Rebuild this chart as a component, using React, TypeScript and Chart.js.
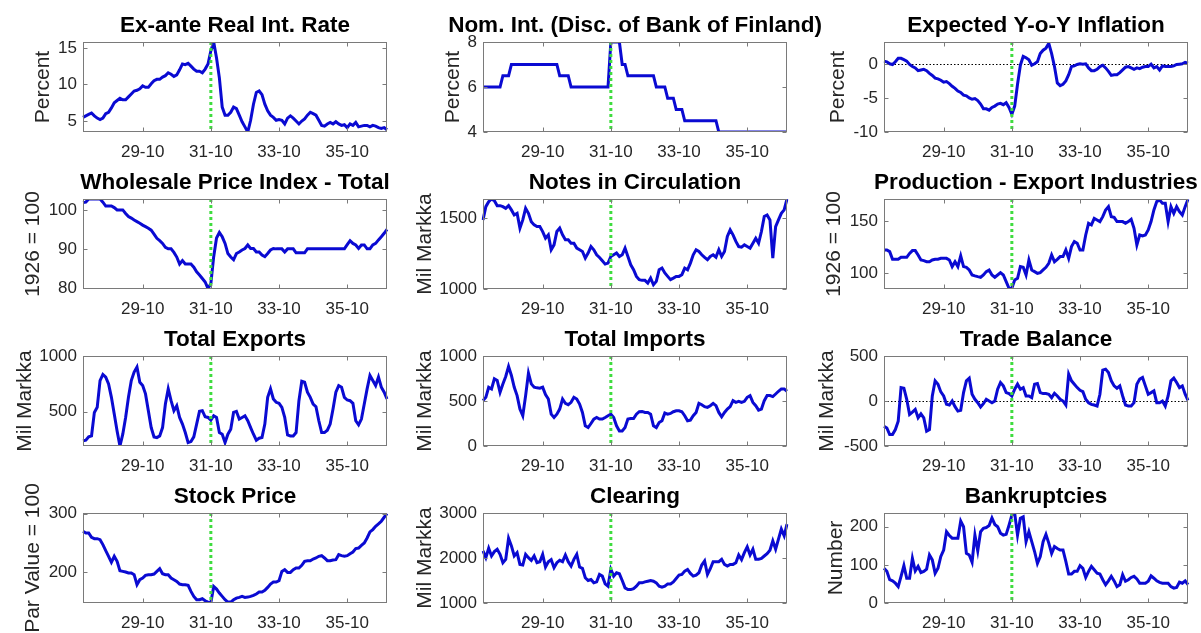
import React, { useEffect, useRef } from "react";
import { Chart, registerables } from "chart.js";

Chart.register(...registerables);

// ---------- categories ----------
const MONTHS: string[] = [];
for (let y = 28; y <= 36; y++) {
  for (let m = 1; m <= 12; m++) MONTHS.push(`${y}-${String(m).padStart(2, "0")}`);
}
const X_TICK_LABELS = ["29-10", "31-10", "33-10", "35-10"];
const BREAK_MONTH = "31-10";

// ---------- series (monthly, 1928-01 .. 1936-12) ----------
const REAL_RATE = [
  5.5, 5.7, 5.9, 6.1, 5.7, 5.4, 5.2, 5.4, 6.0, 6.2,
  6.8, 7.5, 7.8, 8.1, 7.9, 7.9, 8.3, 8.7, 9.1, 9.2,
  9.4, 9.8, 9.6, 9.6, 10.1, 10.5, 10.7, 10.7, 11.0, 11.2,
  11.6, 11.4, 11.1, 11.3, 12.0, 12.8, 12.7, 12.9, 12.5, 12.1,
  11.8, 11.8, 11.6, 12.1, 12.8, 14.6, 15.8, 13.6, 10.9, 6.9,
  5.8, 5.8, 6.2, 6.9, 6.7, 5.8, 4.9, 4.2, 3.5, 5.1,
  7.3, 8.9, 9.1, 8.6, 7.3, 6.4, 5.8, 5.5, 5.1, 5.2,
  5.1, 4.6, 5.4, 5.7, 5.4, 5.0, 4.6, 5.0, 5.3, 5.8,
  6.2, 6.0, 5.8, 5.1, 4.4, 4.3, 4.6, 4.8, 4.6, 4.9,
  4.6, 4.4, 4.5, 4.1, 4.6, 4.4, 4.8, 4.2, 4.3, 4.4,
  4.4, 4.2, 4.4, 4.3, 4.1, 4.0, 4.1, 3.8,
];
const NOM_RATE = [
  6, 6, 6, 6, 6, 6, 6, 6.5, 6.5, 6.5,
  7, 7, 7, 7, 7, 7, 7, 7, 7, 7,
  7, 7, 7, 7, 7, 7, 7, 6.5, 6.5, 6.5,
  6.5, 6, 6, 6, 6, 6, 6, 6, 6, 6,
  6, 6, 6, 6, 6, 8, 8, 8, 8, 7,
  7, 6.5, 6.5, 6.5, 6.5, 6.5, 6.5, 6.5, 6.5, 6.5,
  6.5, 6, 6, 6, 6, 5.5, 5.5, 5.5, 5, 5,
  5, 4.5, 4.5, 4.5, 4.5, 4.5, 4.5, 4.5, 4.5, 4.5,
  4.5, 4.5, 4.5, 4, 4, 4, 4, 4, 4, 4,
  4, 4, 4, 4, 4, 4, 4, 4, 4, 4,
  4, 4, 4, 4, 4, 4, 4, 4,
];
const EXP_INFL = [
  0.4, 0.3, 0, -0.1, 0.3, 0.8, 0.8, 0.6, 0.4, -0.1,
  -0.4, -0.6, -1.0, -0.9, -0.8, -1.0, -1.4, -1.7, -2.1, -2.2,
  -2.4, -2.7, -2.6, -2.9, -3.3, -3.6, -4.0, -4.2, -4.6, -4.7,
  -5.0, -5.2, -5.1, -5.4, -5.9, -6.6, -6.6, -6.8, -6.4, -6.2,
  -5.9, -5.8, -6.0, -5.7, -6.4, -7.4, -6.2, -3.0, -0.2, 1.1,
  0.9, 0.6, -0.2, 0, 0.3, 1.5, 2.0, 2.3, 3.0, 1.5,
  -0.4, -2.8, -3.2, -3.0, -2.5, -1.6, -0.4, -0.3, -0.1, 0,
  -0.05, 0, -0.6, -1.0, -1.0, -0.8, -0.4, -0.2, -0.6, -1.1,
  -1.7, -1.6, -1.6, -1.3, -0.9, -0.5, -0.4, -0.6, -0.8, -0.6,
  -0.7, -0.5, -0.4, -0.4, -0.05, -0.6, -0.4, -0.9, -0.3, -0.4,
  -0.4, -0.4, -0.3, -0.1, -0.05, 0, 0.2, 0.1,
];
const WPI = [
  101.9, 102, 102.8, 102.8, 102.8, 102.8, 102.8, 102, 101, 101,
  101, 100.6, 100, 100, 100, 99.1, 98.3, 97.9, 97.4, 97,
  96.6, 96.1, 95.7, 95.3, 94.8, 93.8, 92.7, 92.1, 91.4, 90.4,
  90, 90, 89.1, 87.9, 86.1, 87, 86.1, 86.1, 86.1, 85.3,
  84.1, 83.3, 82.4, 81.5, 79.8, 81.1, 88, 92.8, 94.2, 93.1,
  91.4, 88.8, 87.9, 87.2, 88.8, 89.2, 89.7, 90.1, 91, 90.1,
  90.1, 89.2, 89.2, 88.4, 88, 88.8, 89.7, 90.1, 90, 90,
  90, 89.2, 90, 90, 90, 89, 89, 89, 89, 90,
  90, 90, 90, 90, 90, 90, 90, 90, 90, 90,
  90, 90, 90, 91.1, 92.1, 91.4, 91, 90.1, 91, 91,
  90, 90, 91, 91.4, 92.3, 93.1, 94, 95,
];
const NOTES = [
  1488, 1582, 1617, 1636, 1624, 1589, 1589, 1582, 1570, 1589,
  1559, 1523, 1535, 1430, 1488, 1570, 1535, 1476, 1453, 1441,
  1441, 1406, 1359, 1383, 1277, 1312, 1406, 1430, 1383, 1348,
  1348, 1324, 1324, 1289, 1277, 1265, 1218, 1254, 1300, 1277,
  1242, 1223, 1200, 1176, 1183, 1230, 1242, 1254, 1230, 1242,
  1289, 1230, 1171, 1136, 1089, 1066, 1061, 1061, 1042, 1077,
  1030, 1054, 1136, 1148, 1113, 1089, 1066, 1077, 1089, 1089,
  1101, 1148, 1136, 1183, 1242, 1277, 1265, 1242, 1223, 1207,
  1230, 1242, 1225, 1277, 1230, 1265, 1371, 1418, 1383, 1336,
  1300, 1296, 1312, 1300, 1289, 1324, 1359, 1324, 1406, 1512,
  1523, 1488, 1218, 1441, 1488, 1535, 1559, 1636,
];
const PRODUCTION = [
  122.3, 122.3, 120.7, 113.4, 113.4, 113.4, 115.3, 115.3, 115.3, 119,
  121.7, 121.7, 117.5, 112.7, 112.1, 111.1, 111.1, 112.7, 113.4, 113.4,
  114.3, 114.3, 114.3, 112.7, 106.4, 111.1, 106.4, 116.6, 106.4, 105.7,
  103.2, 98.4, 97.5, 96.8, 96.2, 98.4, 101.6, 103.2, 98.4, 96.2,
  98.4, 100.6, 98.4, 92, 85.7, 85.7, 93.6, 95.2, 106.4, 105.7,
  98.4, 112.7, 103.2, 101.6, 100, 100.6, 103.2, 105.7, 109.6, 117.5,
  111.1, 113.4, 116, 116, 122.3, 114.3, 125.5, 130.3, 128.7, 122.3,
  122.3, 136.6, 147.8, 146.2, 152.5, 151, 149.4, 154.1, 160.5, 163.7,
  154.1, 153.5, 149.4, 149.4, 149.4, 147.8, 149.4, 151.6, 143, 127,
  136.6, 135.7, 136.6, 141.4, 149.4, 160.5, 168.5, 170, 166.9, 166.9,
  149.4, 163.7, 157.3, 163.7, 158.9, 155.7, 163.7, 170.7,
];
const EXPORTS = [
  236, 242, 272, 281, 492, 538, 779, 834, 810, 749,
  628, 477, 326, 190, 296, 447, 628, 779, 855, 900,
  764, 734, 659, 508, 356, 272, 266, 281, 356, 568,
  704, 598, 508, 553, 447, 387, 311, 221, 230, 272,
  387, 502, 508, 453, 447, 423, 462, 447, 311, 296,
  221, 296, 341, 492, 502, 432, 447, 462, 417, 356,
  296, 242, 260, 266, 387, 628, 704, 613, 583, 574,
  538, 447, 290, 281, 281, 311, 598, 773, 764, 674,
  628, 568, 544, 417, 311, 311, 332, 387, 523, 674,
  734, 719, 628, 604, 598, 574, 417, 381, 432, 568,
  704, 825, 779, 734, 810, 719, 674, 613,
];
const IMPORTS = [
  504, 541, 653, 634, 746, 728, 597, 690, 772, 884,
  784, 653, 560, 410, 336, 560, 810, 690, 653, 646,
  642, 653, 571, 522, 354, 317, 354, 410, 522, 474,
  459, 485, 541, 522, 466, 373, 224, 205, 250, 299,
  317, 299, 299, 317, 336, 354, 317, 224, 168, 168,
  205, 299, 306, 306, 354, 381, 384, 373, 373, 354,
  224, 205, 261, 280, 366, 354, 362, 381, 392, 392,
  381, 336, 280, 287, 336, 373, 474, 459, 437, 429,
  448, 474, 448, 373, 325, 373, 410, 437, 504, 485,
  496, 485, 496, 541, 560, 485, 448, 399, 410, 504,
  560, 560, 549, 578, 608, 634, 634, 608,
];
const TRADE_BALANCE = [
  -280, -299, -373, -373, -317, -224, 149, 142, 19, -149,
  -123, -93, -187, -142, -187, -336, -317, 56, 224, 187,
  101, 56, -37, -45, 0, -63, -112, -104, 93, 224,
  254, 75, 19, -19, -67, -30, 19, 0, -19, 0,
  131, 205, 168, 93, 82, 56, 131, 187, 131, 149,
  56, 56, 37, 187, 194, 93, 82, 82, 75, 37,
  86, 56, 19, 0, -45, 299, 224, 187, 149, 119,
  104, 19, -19, -37, -45, -56, 75, 343, 354, 317,
  224, 168, 142, 168, 56, -45, -56, -56, -19, 187,
  243, 261, 168, 75, 93, 112, -19, -19, 0, -56,
  56, 224, 254, 205, 149, 168, 75, 7,
];
const STOCK_PRICE = [
  269.7, 266.9, 266.9, 259.4, 257.1, 257.1, 255.4, 246.9, 236.6, 226.9,
  216.6, 226.9, 218.3, 202.3, 201.1, 200, 198.3, 198.3, 195.4, 178.3,
  186.9, 189.7, 194.3, 195.4, 195.4, 196.6, 201.1, 205.7, 197.1, 195.4,
  195.4, 189.7, 186.9, 184, 179.4, 178.3, 178.3, 177.1, 166.9, 158.3,
  152.6, 152.6, 154.3, 150.9, 148.5, 147.5, 175.4, 170.9, 164, 158.3,
  152.6, 148.6, 148.6, 152.6, 155.4, 156.6, 158.3, 156.6, 157.1, 158.3,
  160, 162.3, 165.7, 165.7, 168.6, 173.7, 179.4, 182.9, 182.9, 185.1,
  201.1, 204, 199.4, 199.4, 204, 206.9, 206.9, 211.4, 218.3, 219.4,
  219.4, 222.3, 224, 226.9, 228, 224, 219.4, 219.4, 220.6, 221.1,
  229.7, 228, 226.9, 228, 231.4, 234.3, 240, 241.1, 245.7, 249.7,
  258.3, 268.6, 272.6, 278.3, 282.3, 286.9, 293.7, 300,
];
const CLEARING = [
  2157, 2007, 2216, 2045, 2142, 2194, 2082, 1896, 1970, 2440,
  2269, 2045, 2119, 1858, 1843, 2082, 2007, 1948, 2045, 1896,
  1918, 2082, 1799, 1918, 1963, 1784, 1896, 1948, 1918, 2067,
  1918, 1821, 1970, 2082, 1799, 1769, 1560, 1500, 1522, 1448,
  1470, 1634, 1597, 1425, 1373, 1746, 1597, 1672, 1649, 1500,
  1336, 1299, 1299, 1321, 1373, 1448, 1448, 1470, 1485, 1500,
  1485, 1448, 1373, 1351, 1373, 1425, 1425, 1470, 1545, 1619,
  1634, 1709, 1746, 1657, 1597, 1619, 1672, 1843, 1933, 1634,
  1761, 1918, 1918, 1918, 1970, 1858, 1821, 1858, 1858, 1896,
  2067, 1963, 2119, 2246, 2067, 2194, 1970, 1970, 1993, 2045,
  2097, 2172, 2381, 2194, 2418, 2642, 2493, 2754,
];
const BANKRUPTCIES = [
  91, 83, 61, 58, 52, 43, 70, 98, 65, 65,
  117, 84, 96, 80, 83, 89, 126, 113, 78, 91,
  122, 139, 187, 177, 170, 170, 170, 215, 200, 130,
  126, 107, 178, 137, 187, 196, 198, 203, 223, 206,
  200, 183, 178, 180, 204, 230, 235, 178, 222, 226,
  161, 187, 161, 135, 104, 122, 161, 180, 157, 130,
  148, 143, 139, 139, 109, 76, 76, 83, 83, 98,
  91, 67, 83, 96, 87, 78, 76, 61, 48, 58,
  70, 58, 43, 48, 74, 57, 61, 67, 70, 63,
  52, 52, 52, 57, 71, 65, 58, 54, 52, 52,
  52, 43, 39, 41, 55, 52, 58, 48,
];

// ---------- panel configuration ----------
type PanelCfg = {
  title: string;
  ylabel: string;
  data: number[];
  min: number;
  max: number;
  yTicks: number[];
  zero?: boolean;
  col: number;
  row: number;
  ylabelX: number; // absolute page x of rotated y-label centre
};

const PANELS: PanelCfg[] = [
  { title: "Ex-ante Real Int. Rate", ylabel: "Percent", data: REAL_RATE, min: 3.5, max: 15.8, yTicks: [5, 10, 15], col: 0, row: 0, ylabelX: 43 },
  { title: "Nom. Int. (Disc. of Bank of Finland)", ylabel: "Percent", data: NOM_RATE, min: 4, max: 8, yTicks: [4, 6, 8], col: 1, row: 0, ylabelX: 453 },
  { title: "Expected Y-o-Y Inflation", ylabel: "Percent", data: EXP_INFL, min: -10, max: 3.2, yTicks: [-10, -5, 0], zero: true, col: 2, row: 0, ylabelX: 838 },
  { title: "Wholesale Price Index - Total", ylabel: "1926 = 100", data: WPI, min: 79.7, max: 102.8, yTicks: [80, 90, 100], col: 0, row: 1, ylabelX: 33 },
  { title: "Notes in Circulation", ylabel: "Mil Markka", data: NOTES, min: 1000, max: 1636, yTicks: [1000, 1500], col: 1, row: 1, ylabelX: 425 },
  { title: "Production - Export Industries", ylabel: "1926 = 100", data: PRODUCTION, min: 85, max: 171, yTicks: [100, 150], col: 2, row: 1, ylabelX: 834 },
  { title: "Total Exports", ylabel: "Mil Markka", data: EXPORTS, min: 190, max: 1000, yTicks: [500, 1000], col: 0, row: 2, ylabelX: 25 },
  { title: "Total Imports", ylabel: "Mil Markka", data: IMPORTS, min: 0, max: 1000, yTicks: [0, 500, 1000], col: 1, row: 2, ylabelX: 425 },
  { title: "Trade Balance", ylabel: "Mil Markka", data: TRADE_BALANCE, min: -500, max: 500, yTicks: [-500, 0, 500], zero: true, col: 2, row: 2, ylabelX: 827 },
  { title: "Stock Price", ylabel: "Par Value = 100", data: STOCK_PRICE, min: 147, max: 301, yTicks: [200, 300], col: 0, row: 3, ylabelX: 33 },
  { title: "Clearing", ylabel: "Mil Markka", data: CLEARING, min: 1000, max: 3000, yTicks: [1000, 2000, 3000], col: 1, row: 3, ylabelX: 425 },
  { title: "Bankruptcies", ylabel: "Number", data: BANKRUPTCIES, min: 0, max: 236, yTicks: [0, 100, 200], col: 2, row: 3, ylabelX: 836 },
];

// ---------- layout / style ----------
const PLOT_LEFT = [83, 483, 884];
const PLOT_TOP = [42, 199, 356, 513];
const PLOT_W = 304;
const PLOT_H = 90;
const MARGIN_L = 100;
const MARGIN_R = 80;
const MARGIN_T = 42;
const CANVAS_W = MARGIN_L + PLOT_W + MARGIN_R;
const CANVAS_H = 162;
const Y_AXIS_W = 50;
const X_AXIS_H = 25;

const FONT = '"Liberation Sans", Arial, Helvetica, sans-serif';
const LINE_COLOR = "#0a0ad2";
const BREAK_COLOR = "#3fdc3f";
const AXIS_COLOR = "#7a7a7a";
const TEXT_COLOR = "#262626";

Chart.defaults.font.family = FONT;

function PanelChart({ cfg }: { cfg: PanelCfg }) {
  const ref = useRef<HTMLCanvasElement | null>(null);
  const canvasLeft = PLOT_LEFT[cfg.col] - MARGIN_L;
  const canvasTop = PLOT_TOP[cfg.row] - MARGIN_T;

  useEffect(() => {
    const canvas = ref.current;
    if (!canvas) return;
    const breakIdx = MONTHS.indexOf(BREAK_MONTH);
    const xTickIdx = X_TICK_LABELS.map((l) => MONTHS.indexOf(l));

    const framePlugin = {
      id: "matlabFrame",
      beforeDatasetsDraw(chart: any) {
        const { ctx, chartArea: a, scales } = chart;
        if (cfg.zero) {
          const y = Math.round(scales.y.getPixelForValue(0)) + 0.5;
          ctx.save();
          ctx.strokeStyle = "#000";
          ctx.lineWidth = 1;
          ctx.setLineDash([1.5, 2]);
          ctx.beginPath();
          ctx.moveTo(a.left, y);
          ctx.lineTo(a.right, y);
          ctx.stroke();
          ctx.restore();
        }
      },
      afterDatasetsDraw(chart: any) {
        const { ctx, chartArea: a, scales } = chart;
        const xb = scales.x.getPixelForValue(breakIdx);
        ctx.save();
        ctx.strokeStyle = BREAK_COLOR;
        ctx.lineWidth = 3;
        ctx.setLineDash([3, 3]);
        ctx.beginPath();
        ctx.moveTo(xb, a.top);
        ctx.lineTo(xb, a.bottom);
        ctx.stroke();
        ctx.restore();
      },
      afterDraw(chart: any) {
        const { ctx, chartArea: a, scales } = chart;
        const L = Math.round(a.left) + 0.5;
        const R = Math.round(a.right) - 0.5;
        const T = Math.round(a.top) + 0.5;
        const B = Math.round(a.bottom) - 0.5;
        ctx.save();
        ctx.strokeStyle = AXIS_COLOR;
        ctx.lineWidth = 1;
        ctx.setLineDash([]);
        ctx.strokeRect(L, T, R - L, B - T);
        ctx.beginPath();
        const tl = 4;
        xTickIdx.forEach((i) => {
          const px = Math.round(scales.x.getPixelForValue(i)) + 0.5;
          ctx.moveTo(px, B);
          ctx.lineTo(px, B - tl);
          ctx.moveTo(px, T);
          ctx.lineTo(px, T + tl);
        });
        cfg.yTicks.forEach((v) => {
          const py = Math.round(scales.y.getPixelForValue(v)) + 0.5;
          ctx.moveTo(L, py);
          ctx.lineTo(L + tl, py);
          ctx.moveTo(R, py);
          ctx.lineTo(R - tl, py);
        });
        ctx.stroke();

        // title
        ctx.fillStyle = "#000";
        ctx.font = `bold 22.5px ${FONT}`;
        ctx.textAlign = "center";
        ctx.textBaseline = "middle";
        ctx.fillText(cfg.title, (a.left + a.right) / 2, a.top - 16);

        // y label
        ctx.fillStyle = TEXT_COLOR;
        ctx.font = `21px ${FONT}`;
        ctx.translate(cfg.ylabelX - canvasLeft, (a.top + a.bottom) / 2);
        ctx.rotate(-Math.PI / 2);
        ctx.textAlign = "center";
        ctx.textBaseline = "middle";
        ctx.fillText(cfg.ylabel, 0, 0);
        ctx.restore();
      },
    };

    const chart = new Chart(canvas, {
      type: "line",
      data: {
        labels: MONTHS,
        datasets: [
          {
            data: cfg.data,
            borderColor: LINE_COLOR,
            backgroundColor: LINE_COLOR,
            borderWidth: 3,
            pointRadius: 0,
            tension: 0,
            fill: false,
          },
        ],
      },
      options: {
        responsive: false,
        animation: false,
        events: [],
        layout: {
          padding: {
            left: MARGIN_L - Y_AXIS_W,
            right: MARGIN_R,
            top: MARGIN_T,
            bottom: CANVAS_H - MARGIN_T - PLOT_H - X_AXIS_H,
          },
        },
        plugins: {
          legend: { display: false },
          tooltip: { enabled: false },
          title: { display: false },
        },
        scales: {
          x: {
            type: "category",
            grid: { display: false, drawTicks: false },
            border: { display: false },
            ticks: {
              autoSkip: false,
              maxRotation: 0,
              minRotation: 0,
              padding: 10,
              color: TEXT_COLOR,
              font: { size: 17, family: FONT },
              callback: (v: any) => MONTHS[Number(v)],
            },
            afterBuildTicks: (s: any) => {
              s.ticks = xTickIdx.map((i) => ({ value: i }));
            },
            afterFit: (s: any) => {
              s.height = X_AXIS_H;
            },
          },
          y: {
            type: "linear",
            min: cfg.min,
            max: cfg.max,
            grid: { display: false, drawTicks: false },
            border: { display: false },
            ticks: {
              padding: 6,
              color: TEXT_COLOR,
              font: { size: 17, family: FONT },
              callback: (v: any) => String(v),
            },
            afterBuildTicks: (s: any) => {
              s.ticks = cfg.yTicks.map((v) => ({ value: v }));
            },
            afterFit: (s: any) => {
              s.width = Y_AXIS_W;
            },
          },
        },
      } as any,
      plugins: [framePlugin],
    });
    return () => chart.destroy();
  }, [cfg]);

  return (
    <canvas
      ref={ref}
      width={CANVAS_W}
      height={CANVAS_H}
      style={{
        position: "absolute",
        left: canvasLeft,
        top: canvasTop,
        width: CANVAS_W,
        height: CANVAS_H,
      }}
    />
  );
}

export default function App() {
  return (
    <div
      style={{
        position: "absolute",
        left: 0,
        top: 0,
        width: 1201,
        height: 633,
        overflow: "hidden",
        background: "#fff",
      }}
    >
      {PANELS.map((p, i) => (
        <PanelChart key={i} cfg={p} />
      ))}
    </div>
  );
}
